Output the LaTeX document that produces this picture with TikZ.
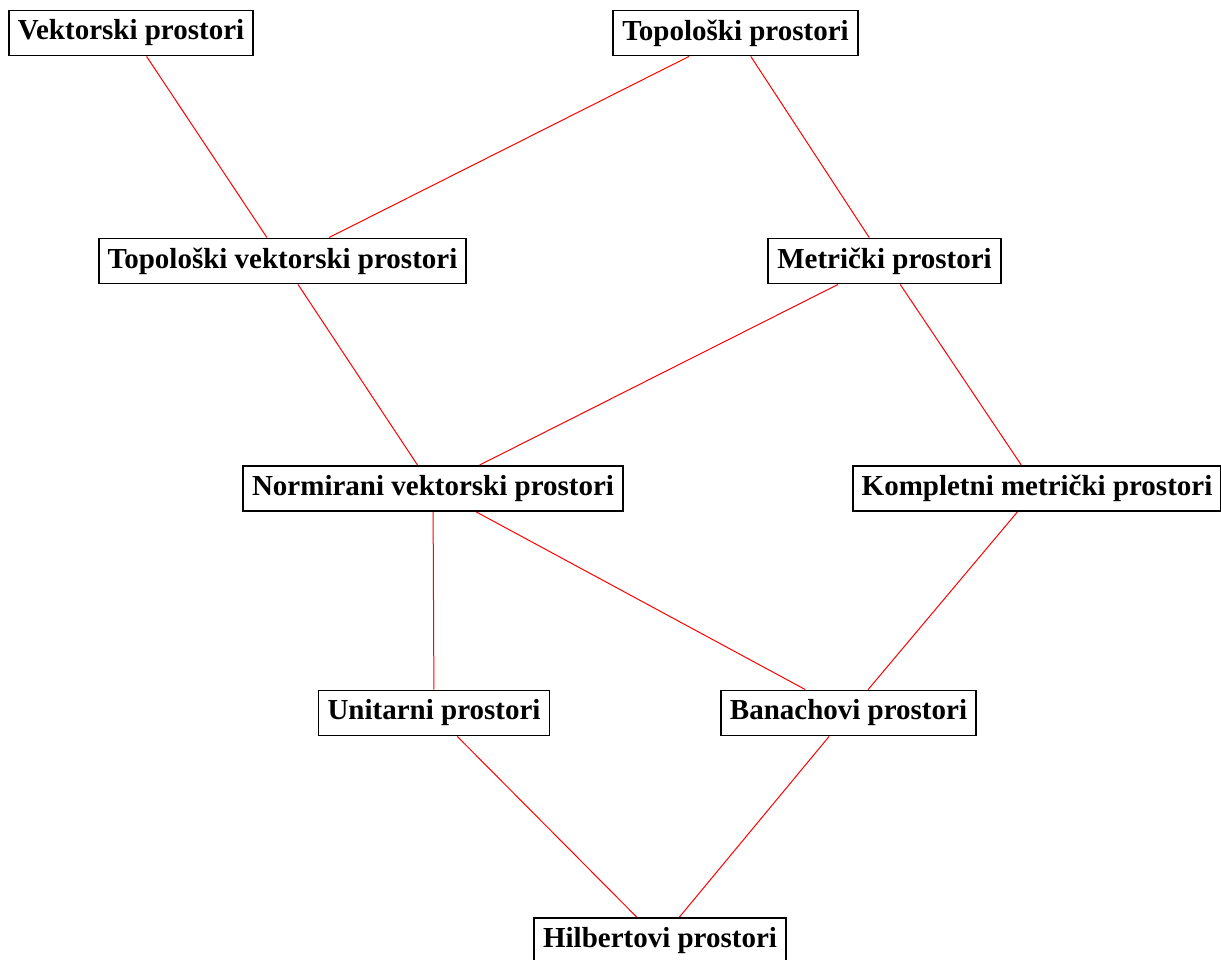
\documentclass[tikz,border=0pt]{standalone}
\usepackage{fontspec}
\setmainfont{Liberation Serif}
\begin{document}
\begin{tikzpicture}[x=1pt,y=-1pt,
  box/.style={draw=black,line width=1.9pt,fill=white,inner xsep=9pt,inner ysep=0pt,minimum height=45pt,font=\fontsize{29}{34}\selectfont\bfseries},
  link/.style={draw=red,line width=1pt}]
\useasboundingbox (0,0) rectangle (1221,960);
\node[box] (vp) at (131,33) {Vektorski prostori};
\node[box] (tp) at (735.5,33) {Topološki prostori};
\node[box] (tvp) at (282.5,261) {Topološki vektorski prostori};
\node[box] (mp) at (884.5,261) {Metrički prostori};
\node[box] (nvp) at (433,488.5) {Normirani vektorski prostori};
\node[box] (kmp) at (1037,488.5) {Kompletni metrički prostori};
\node[box] (up) at (434,713) {Unitarni prostori};
\node[box] (bp) at (848.5,713) {Banachovi prostori};
\node[box] (hp) at (660,940.5) {Hilbertovi prostori};
\draw[link] (vp) -- (tvp);
\draw[link] (tp) -- (tvp);
\draw[link] (tp) -- (mp);
\draw[link] (tvp) -- (nvp);
\draw[link] (mp) -- (nvp);
\draw[link] (mp) -- (kmp);
\draw[link] (nvp) -- (up);
\draw[link] (nvp) -- (bp);
\draw[link] (kmp) -- (bp);
\draw[link] (up) -- (hp);
\draw[link] (bp) -- (hp);
\end{tikzpicture}
\end{document}
